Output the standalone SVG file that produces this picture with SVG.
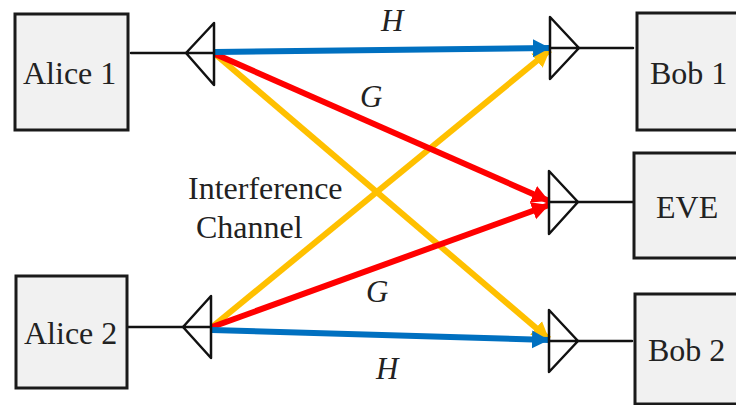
<svg xmlns="http://www.w3.org/2000/svg" width="736" height="405" viewBox="0 0 736 405">
<style>
.box{fill:#f1f1f1;stroke:#1a1a1a;stroke-width:3}
.wire{fill:none;stroke:#111;stroke-width:2.5;stroke-linejoin:round;stroke-linecap:round}
.t{font-family:"Liberation Serif","Times New Roman",serif;font-size:32px;fill:#222}
.i{font-family:"Liberation Serif","Times New Roman",serif;font-size:31px;font-style:italic;fill:#222}
.c{fill:none;stroke-width:6}
.y{stroke:#ffc000}.r{stroke:#ff0000}.b{stroke:#0070c0}
</style>
<defs>
<marker id="ab" markerUnits="userSpaceOnUse" markerWidth="18" markerHeight="20" refX="17" refY="10" orient="auto"><path d="M0 1L17 10L0 19Z" fill="#0070c0"/></marker>
<marker id="ar" markerUnits="userSpaceOnUse" markerWidth="18" markerHeight="20" refX="17" refY="10" orient="auto"><path d="M0 1L17 10L0 19Z" fill="#ff0000"/></marker>
<marker id="ay" markerUnits="userSpaceOnUse" markerWidth="18" markerHeight="20" refX="17" refY="10" orient="auto"><path d="M0 1L17 10L0 19Z" fill="#ffc000"/></marker>
</defs>
<g id="connectors">
<line class="c y" x1="215" y1="54" x2="549" y2="339" marker-end="url(#ay)"/>
<line class="c y" x1="212" y1="327" x2="550" y2="50" marker-end="url(#ay)"/>
<line class="c r" x1="215" y1="54" x2="549" y2="201" marker-end="url(#ar)"/>
<line class="c r" x1="212" y1="327" x2="549" y2="205" marker-end="url(#ar)"/>
<line class="c b" x1="215" y1="52" x2="550" y2="48" marker-end="url(#ab)"/>
<line class="c b" x1="212" y1="330" x2="549" y2="340" marker-end="url(#ab)"/>
<path class="wire" d="M131 53H186"/>
<path class="wire" d="M128 327H183"/>
<path class="wire" d="M579 48H633"/>
<path class="wire" d="M578 202H633"/>
<path class="wire" d="M578 341H632"/>
</g>
<g id="alice1"><rect class="box" x="15" y="14" width="113" height="116"/><text class="t" x="23" y="84">Alice 1</text></g>
<g id="alice2"><rect class="box" x="16" y="276" width="111" height="112"/><text class="t" x="24" y="344">Alice 2</text></g>
<g id="bob1"><rect class="box" x="637" y="13" width="102" height="117"/><text class="t" x="650" y="84">Bob 1</text></g>
<g id="eve"><rect class="box" x="634" y="153" width="105" height="105"/><text class="t" x="656" y="218">EVE</text></g>
<g id="bob2"><rect class="box" x="635" y="294" width="104" height="110"/><text class="t" x="648" y="361">Bob 2</text></g>
<g id="antenna-a1"><path class="wire" d="M214 23V85L186 53ZM186 53H214"/></g>
<g id="antenna-a2"><path class="wire" d="M211 296V358L183 327ZM183 327H211"/></g>
<g id="antenna-b1"><path class="wire" d="M550 17V79L579 48ZM550 48H579"/></g>
<g id="antenna-e"><path class="wire" d="M549 171V234L578 202ZM549 202H578"/></g>
<g id="antenna-b2"><path class="wire" d="M549 310V372L578 341ZM549 341H578"/></g>
<g id="labels">
<text class="i" x="381" y="31">H</text>
<text class="i" x="360" y="107">G</text>
<text class="t" x="188" y="199">Interference</text>
<text class="t" x="196" y="238">Channel</text>
<text class="i" x="366" y="302">G</text>
<text class="i" x="376" y="379">H</text>
</g>
</svg>
